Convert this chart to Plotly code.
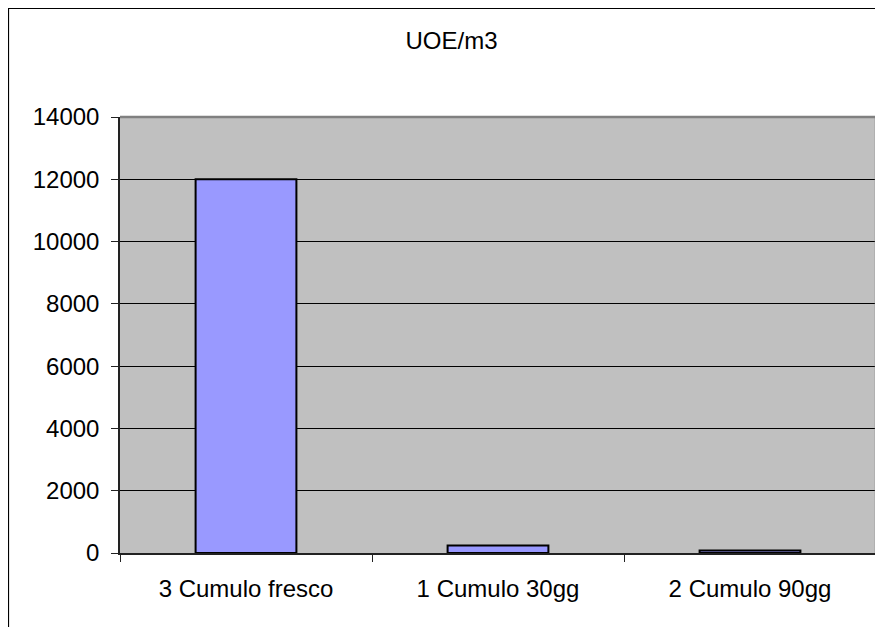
import plotly.graph_objects as go

categories = ["3 Cumulo fresco", "1 Cumulo 30gg", "2 Cumulo 90gg"]
values = [12000, 240, 80]
y_ticks = [0, 2000, 4000, 6000, 8000, 10000, 12000, 14000]
y_tick_text = [str(v) for v in y_ticks]

# page body adds an 8px offset; figure coordinates = page - 8
W, H = 875, 619
L, T = 112, 109
PR, PB = 868, 545
R, B = W - PR, H - PB
pw, ph = PR - L, PB - T

fig = go.Figure(go.Bar(
    x=categories, y=values,
    marker=dict(color="#9999FF", line=dict(color="#000000", width=2)),
    width=0.4,
))

FONT = "Liberation Sans, Arial, sans-serif"
FS = 24
fig.update_layout(
    width=W, height=H,
    margin=dict(l=L, r=R, t=T, b=B, pad=0),
    paper_bgcolor="white", plot_bgcolor="#C0C0C0",
    showlegend=False,
    font=dict(family=FONT, size=FS, color="black"),
    title=dict(text="UOE/m3", x=(443.5 - L) / pw, xref="paper", xanchor="center",
               y=1 - 33 / H, yref="container", yanchor="middle",
               font=dict(family=FONT, size=FS, color="black")),
    xaxis=dict(showline=True, linecolor="#222222", linewidth=2,
               ticks="outside", ticklen=7, tickcolor="#222222", tickwidth=1,
               tickson="boundaries", showgrid=False, ticklabelstandoff=13,
               tickfont=dict(family=FONT, size=FS)),
    yaxis=dict(range=[0, 14000], tickvals=y_ticks, ticktext=y_tick_text,
               showline=True, linecolor="#222222", linewidth=1.5,
               ticks="outside", ticklen=7, tickcolor="#222222",
               showgrid=True, gridcolor="#000000", gridwidth=1,
               zeroline=False, ticklabelstandoff=7,
               tickfont=dict(family=FONT, size=FS)),
    shapes=[
        dict(type="line", xref="paper", yref="paper", x0=0, x1=1, y0=1, y1=1,
             line=dict(color="#808080", width=2.5)),
        dict(type="line", xref="paper", yref="paper", x0=1, x1=1, y0=0, y1=1,
             line=dict(color="#808080", width=2.5)),
        dict(type="rect", xref="paper", yref="paper",
             x0=(0.5 - L) / pw, x1=(W + 10 - L) / pw,
             y0=(PB - (H + 10)) / ph, y1=(PB - 0.5) / ph,
             line=dict(color="#000000", width=1.2), layer="above"),
    ],
)

fig.write_html("out.html")
